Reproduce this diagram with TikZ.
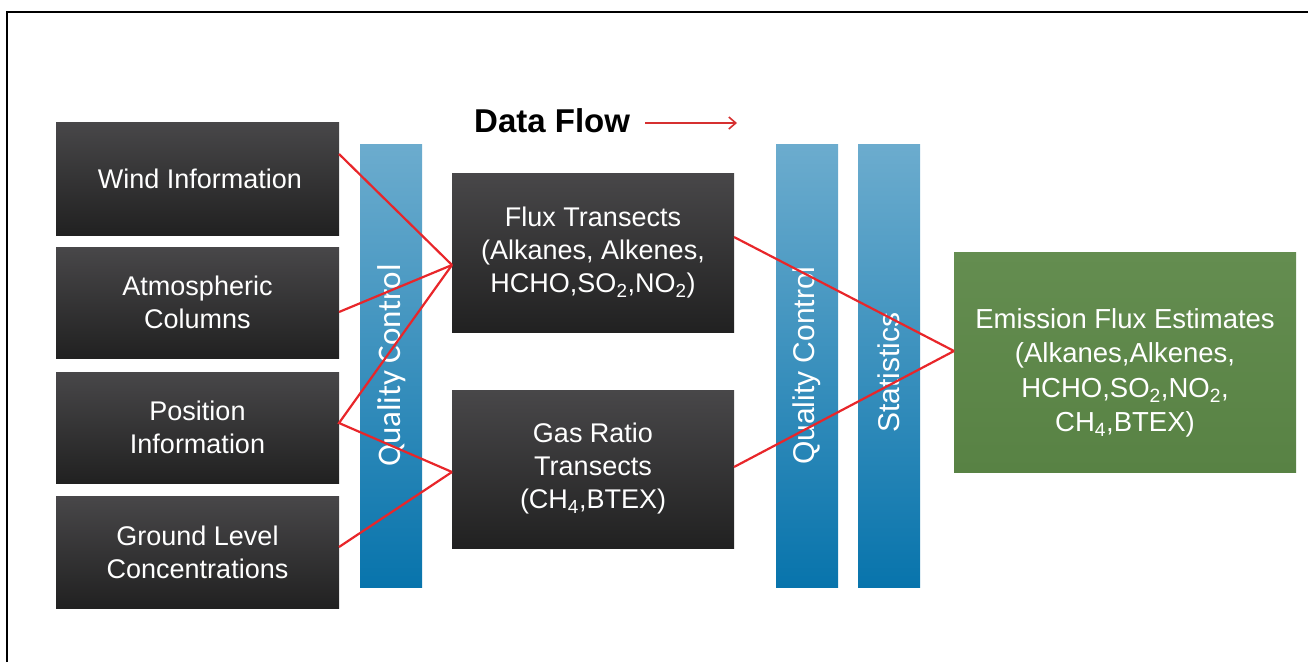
\documentclass[tikz,border=0pt]{standalone}
\usepackage{fontspec}
\setmainfont{Liberation Sans}
\newfontfamily\qcfont{Carlito}
\usetikzlibrary{arrows.meta,calc}
\definecolor{darktop}{RGB}{72,71,73}
\definecolor{darkbot}{RGB}{33,33,33}
\definecolor{bluetop}{RGB}{108,172,206}
\definecolor{bluebot}{RGB}{8,116,172}
\definecolor{greentop}{RGB}{100,141,80}
\definecolor{greenbot}{RGB}{88,130,68}
\definecolor{flowred}{RGB}{232,38,42}
\definecolor{arrowred}{RGB}{214,48,48}
\tikzset{
  boxtext/.style={text=white, align=center, font=\fontsize{27}{33}\selectfont},
  darkbox/.style={boxtext, rectangle, outer sep=0pt, inner sep=0pt,
    top color=darktop, bottom color=darkbot, minimum width=283pt},
  bluebar/.style={rectangle, outer sep=0pt, inner sep=0pt,
    top color=bluetop, bottom color=bluebot, minimum width=62pt, minimum height=443pt},
  greenbox/.style={rectangle, outer sep=0pt, inner sep=0pt,
    top color=greentop, bottom color=greenbot},
  barlabel/.style={text=white, rotate=90, font=\fontsize{30}{36}\selectfont},
  flow/.style={draw=flowred, line width=2.2pt},
}
\begin{document}
\begin{tikzpicture}[x=1pt,y=-1pt]
\useasboundingbox (0,0) rectangle (1308,662);
\draw[line width=1.3pt] (7,662) -- (7,12) -- (1308,12);

% left column
\node[darkbox, minimum height=113pt] (wind) at (197.5,178.5) {\hspace*{5pt}Wind Information};
\node[darkbox, minimum height=111pt] (atm) at (197.5,302.5) {Atmospheric\\Columns};
\node[darkbox, minimum height=111pt] (pos) at (197.5,427.5) {Position\\Information};
\node[darkbox, minimum height=112pt] (ground) at (197.5,552) {Ground Level\\Concentrations};

% bars
\node[bluebar] (qc1) at (391,365.5) {};
\node[barlabel, font=\fontsize{33}{38}\qcfont] at ([xshift=1pt]qc1.center) {Quality Control};
\node[bluebar] (qc2) at (807,365.5) {};
\node[barlabel] at (qc2.center) {Quality Control};
\node[bluebar] (stats) at (889,365.5) {};
\node[barlabel] at ([yshift=-7pt]stats.center) {Statistics};

% middle column
\node[darkbox, minimum width=282pt, minimum height=159pt] (flux) at (593,252.5)
  {Flux Transects\\(Alkanes, Alkenes,\\HCHO,SO\textsubscript{2},NO\textsubscript{2})};
\node[darkbox, minimum width=282pt, minimum height=158pt] (gas) at (593,469)
  {Gas Ratio\\Transects\\(CH\textsubscript{4},BTEX)};

% result
\node[greenbox, minimum width=342pt, minimum height=220pt] (emis) at (1125,362) {};
\node[boxtext, font=\fontsize{27.5}{34.5}\selectfont] at ([yshift=-11pt]emis.center)
  {Emission Flux Estimates\\(Alkanes,Alkenes,\\HCHO,SO\textsubscript{2},NO\textsubscript{2},\\CH\textsubscript{4},BTEX)};

% title
\node[font=\fontsize{33}{38}\selectfont\bfseries, anchor=west, inner sep=0pt] (title) at (474,121) {Data Flow};
\coordinate (arrowend) at (737,123);
\draw[draw=arrowred, line width=1.6pt, -{Straight Barb[length=7pt,width=12pt]}] ([xshift=15pt,yshift=-2pt]title.east) -- (arrowend);

% connectors
\coordinate (fluxin) at ([yshift=-92pt]flux.north west);
\coordinate (gasin) at ([yshift=-82pt]gas.north west);
\coordinate (emisin) at ([yshift=-99pt]emis.north west);
\draw[flow] ([yshift=-32pt]wind.north east) -- (fluxin);
\draw[flow] ([yshift=-65pt]atm.north east) -- (fluxin);
\draw[flow] (gasin) -- ([yshift=-51pt]pos.north east) -- (fluxin);
\draw[flow] ([yshift=-51pt]ground.north east) -- (gasin);
\draw[flow] ([yshift=-64pt]flux.north east) -- (emisin);
\draw[flow] ([yshift=-77pt]gas.north east) -- (emisin);
\end{tikzpicture}
\end{document}
